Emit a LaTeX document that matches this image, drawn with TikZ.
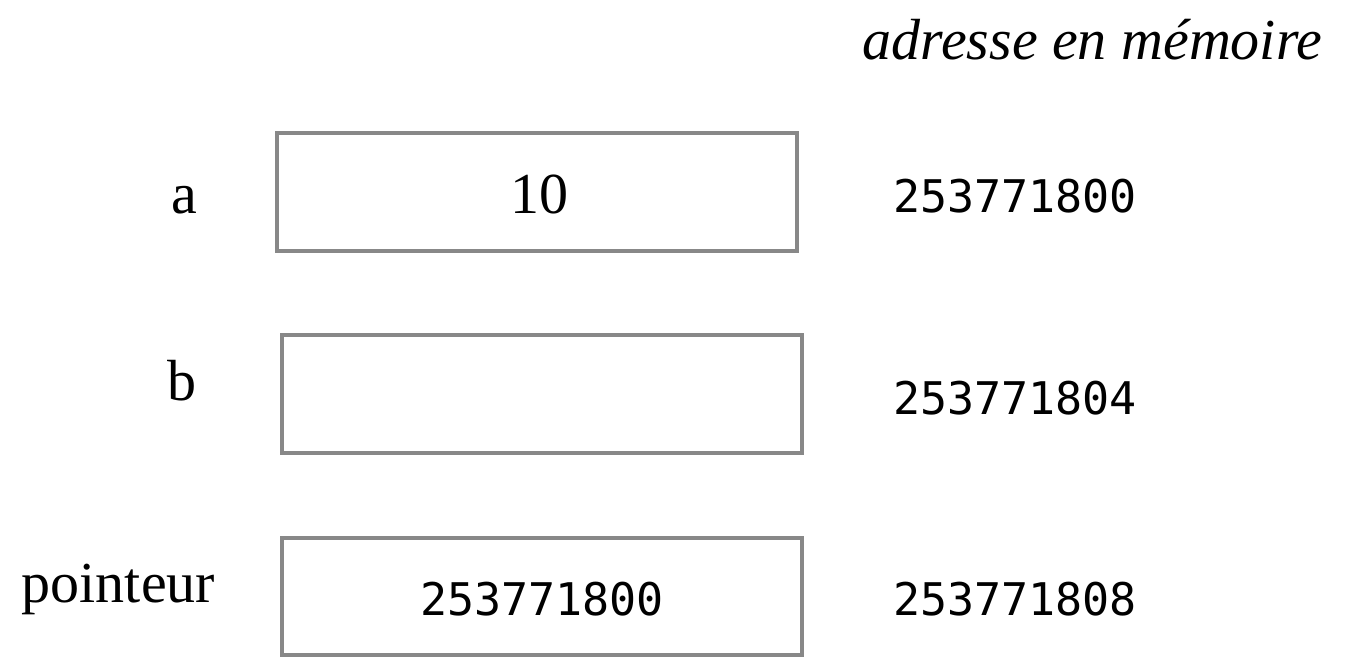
\documentclass[tikz,border=0pt]{standalone}
\usepackage{fontspec}
\setmainfont{Liberation Serif}
\setmonofont{DejaVu Sans Mono}
\begin{document}
\begin{tikzpicture}[x=1pt,y=-1pt,
  cell/.style={draw=boxgray, line width=3.5pt, minimum width=520pt, inner sep=0pt},
  lbl/.style={anchor=base, inner sep=0pt, font=\fontsize{58}{60}\selectfont},
  addr/.style={anchor=base, inner sep=0pt, font=\fontsize{45}{50}\selectfont\ttfamily}]
\definecolor{boxgray}{HTML}{888888}
\useasboundingbox (0,0) rectangle (1349,658);
% boxes
\node[cell, minimum height=118pt] (boxa) at (537,192) {};
\node[cell, minimum height=118pt] (boxb) at (542,394) {};
\node[cell, minimum height=117pt] (boxc) at (542,596.5) {};
% labels
\node[lbl] (la) at (184,213) {a};
\node[lbl] (lb) at (181.5,400) {b};
\node[lbl] (lp) at (118.5,602) {pointeur};
% contents
\node[lbl] (va) at (539,213) {10};
\node[addr] (vc) at (542,615) {253771800};
% addresses
\node[addr] (adra) at (1015,212) {253771800};
\node[addr] (adrb) at (1015,414) {253771804};
\node[addr] (adrc) at (1015,615) {253771808};
\node[lbl, font=\fontsize{58}{60}\selectfont\itshape] (title) at (1092.5,60) {adresse en mémoire};
\end{tikzpicture}
\end{document}
